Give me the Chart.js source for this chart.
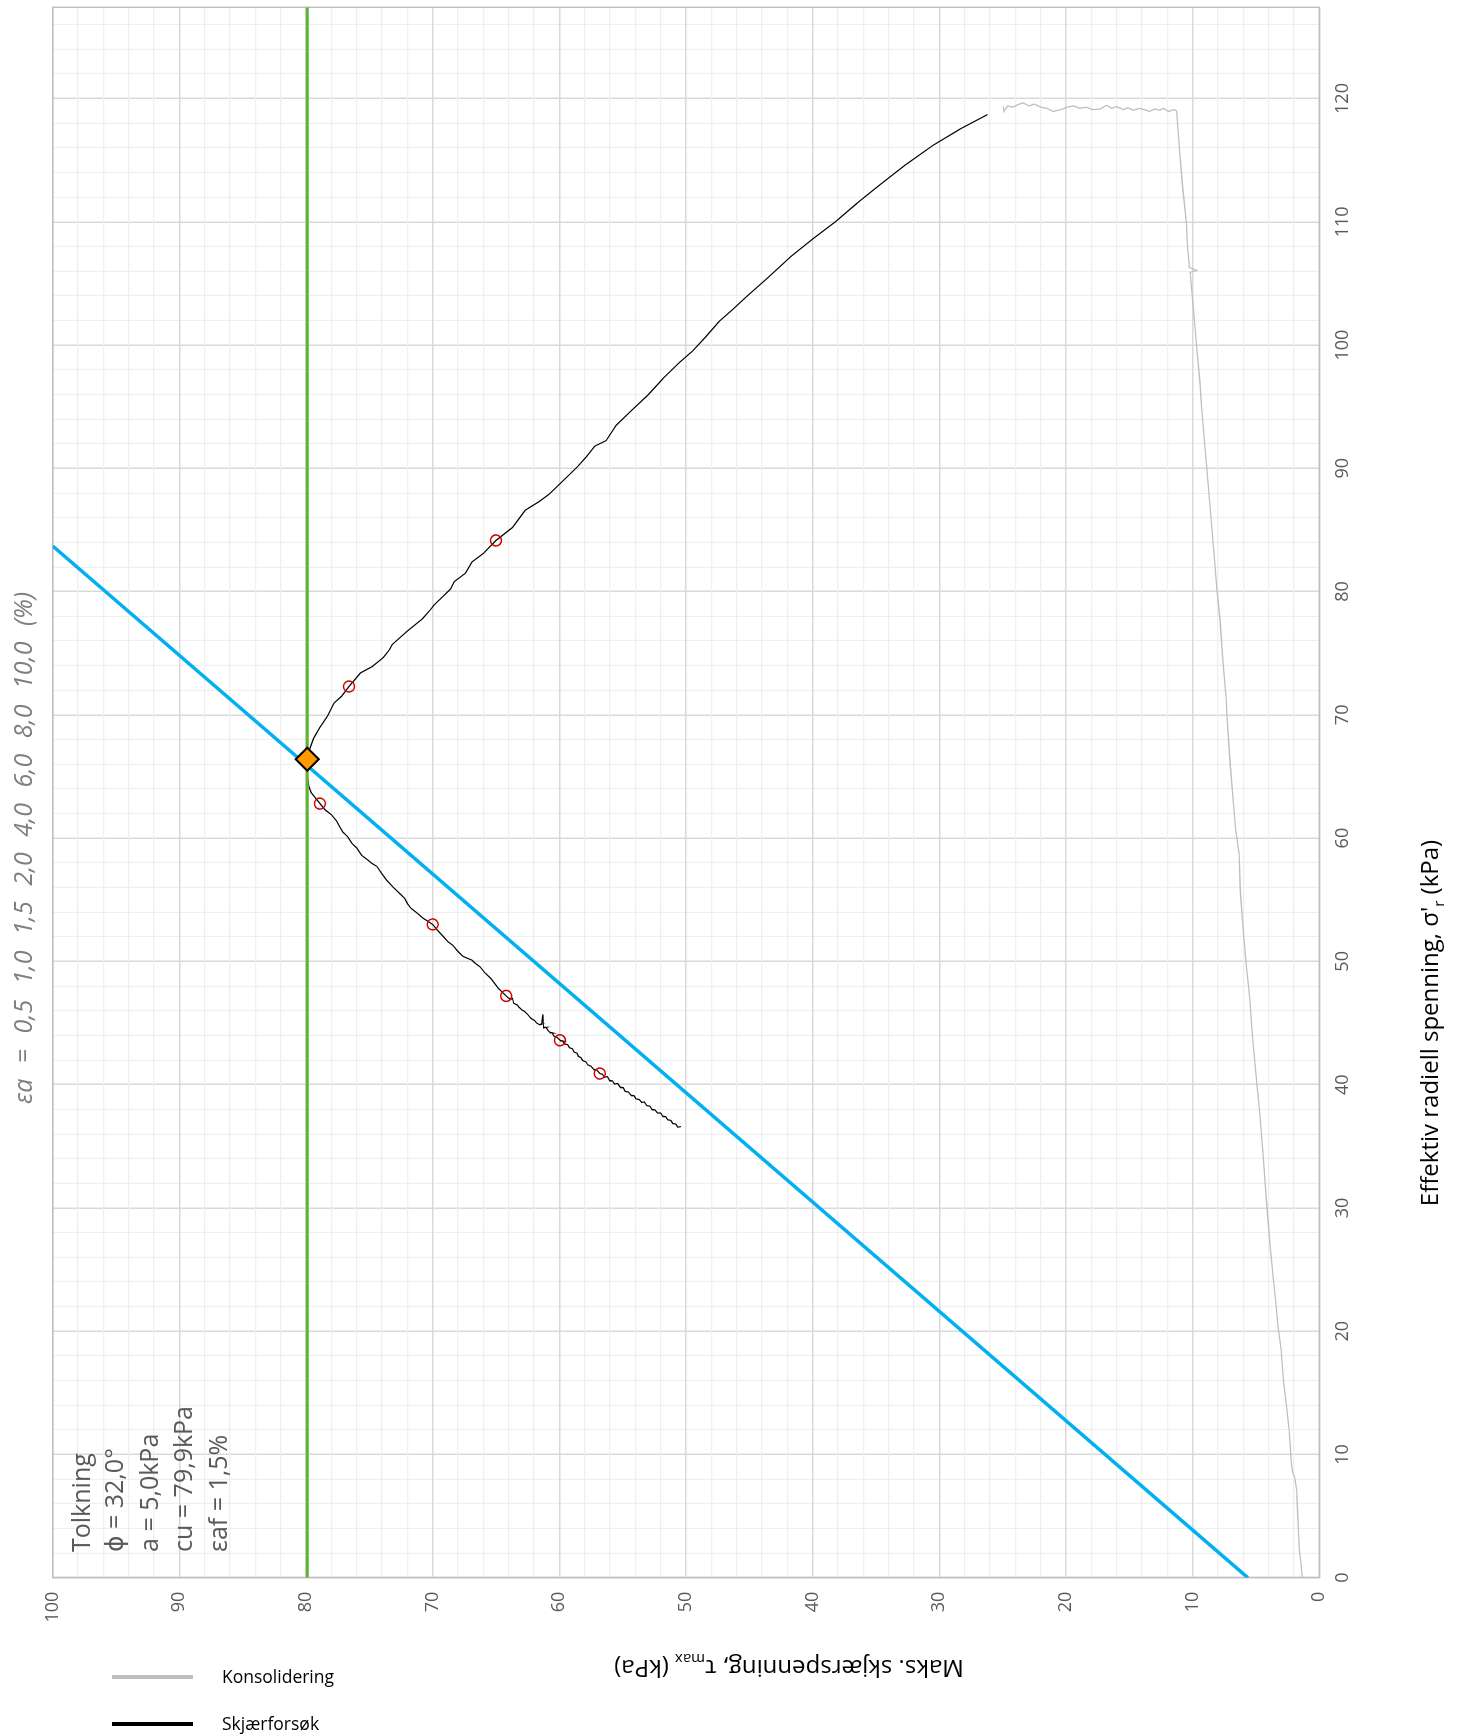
<!DOCTYPE html>
<html lang="no">
<head>
<meta charset="utf-8">
<title>Spenningssti – treaksialforsøk</title>
<script src="https://cdn.jsdelivr.net/npm/chart.js@4.4.1/dist/chart.umd.min.js"></script>
<style>
  html, body { margin: 0; padding: 0; width: 1461px; height: 1734px; overflow: hidden; background: #fff; }
  /* The plot is laid out landscape and turned a quarter turn counter-clockwise */
  #stage {
    position: absolute; left: 0; top: 0;
    width: 1734px; height: 1461px;
    transform-origin: 0 0;
    transform: translate(0px, 1734px) rotate(-90deg);
  }
  #stage canvas { display: block; }
  #legend { position: absolute; left: 0; top: 0; font-family: "Open Sans", sans-serif; font-size: 17.5px; color: #000; }
  #legend .swatch { position: absolute; left: 112px; width: 81px; height: 3.5px; }
  #legend .label { position: absolute; left: 222px; line-height: 24px; white-space: nowrap; }
</style>
</head>
<body>
<div id="stage"><canvas id="chart" width="1734" height="1461"></canvas></div>
<div id="legend"></div>
<script>
// ---- Consolidation stage: effective radial stress σ'r (kPa) and τmax (kPa)
const consolSigma = [
  0.0, 1.2, 2.25, 3.9, 5.5, 7.1, 8.07, 8.6, 9.07, 10.5, 12.0, 14.0, 16.05, 18.5, 20.3, 22.5,
  24.2, 26.9, 30.0, 32.0, 34.3, 37.8, 40.5, 44.0, 47.1, 49.8, 52.9, 55.8, 58.7, 59.6, 60.7,
  63.1, 66.2, 70.0, 71.4, 73.9, 77.7, 80.4, 83.0, 85.4, 88.5, 92.3, 94.9, 96.9, 99.9, 103.0,
  104.5, 105.9, 106.05, 106.3, 106.6, 107.8, 109.9, 112.95, 116.0, 119.0,
  119.1, 118.95, 119.2, 119.05, 119.15, 118.95, 119.1, 119.2, 119.05, 119.25, 119.1, 119.35,
  119.2, 119.45, 119.15, 119.1, 119.3, 119.2, 119.4, 119.3, 119.1, 118.95, 119.2, 119.3,
  119.55, 119.4, 119.65, 119.5, 119.3, 119.4, 118.95, 119.35
];
const consolTau = [
  1.34, 1.45, 1.58, 1.66, 1.72, 1.79, 1.92, 2.1, 2.18, 2.28, 2.39, 2.6, 2.84, 3.02, 3.25, 3.45,
  3.62, 3.88, 4.13, 4.28, 4.44, 4.71, 4.97, 5.29, 5.5, 5.77, 6.03, 6.24, 6.33, 6.45, 6.6,
  6.8, 7.05, 7.3, 7.35, 7.58, 7.84, 8.1, 8.3, 8.5, 8.76, 9.08, 9.29, 9.42, 9.68, 9.95,
  10.08, 10.2, 9.68, 10.28, 10.28, 10.4, 10.5, 10.8, 11.05, 11.26,
  11.5, 11.9, 12.3, 12.6, 13.0, 13.4, 13.8, 14.2, 14.7, 15.1, 15.5, 16.0,
  16.4, 16.8, 17.3, 17.9, 18.4, 18.9, 19.4, 19.9, 20.4, 21.0, 21.5, 22.0,
  22.5, 22.9, 23.4, 23.8, 24.2, 24.6, 24.9, 24.95
];

// ---- Undrained shear stage
const shearSigma = [
  118.7, 117.5, 116.2, 114.6, 113.0, 111.5, 110.0, 108.6, 107.2, 105.5, 103.9, 102.9, 101.9,
  100.6, 99.5, 98.6, 97.3, 95.95, 94.7, 93.5, 92.25, 91.8, 90.9, 90.1, 88.7, 87.9, 87.3, 86.6,
  85.2, 84.15, 83.1, 82.4, 81.5, 80.8, 80.2, 79.6, 78.9, 78.5, 77.8, 76.8, 75.7, 75.3, 74.65,
  73.9, 73.4, 72.3, 71.5, 70.95, 69.9, 69.0, 68.1, 67.1, 66.4,
  65.4, 64.3, 63.7, 62.8, 62.3, 61.9, 61.4, 60.95, 60.5, 60.1, 59.6, 59.2, 58.6, 58.2, 57.95,
  57.7, 57.1, 56.6, 56.0, 55.5, 55.1, 54.7, 54.3, 53.9, 53.5, 53.0, 52.5, 52.0, 51.6, 51.3,
  50.8, 50.4, 50.1, 49.9, 49.55, 49.1, 48.6, 48.2, 47.8,
  47.2, 47.05, 46.9, 47.0, 46.6, 46.45, 46.3, 46.05, 45.95, 45.7, 45.5, 45.35, 45.2, 45.0,
  44.85, 44.9, 45.7, 44.6, 44.65, 44.4, 44.25, 44.2, 43.95, 43.85, 43.6, 43.55, 43.3, 43.25,
  43.0, 42.9, 42.65, 42.55, 42.3, 42.2, 41.95, 41.85, 41.6, 41.5, 41.25, 41.2, 40.9, 40.85,
  40.6, 40.65, 40.35, 40.3, 40.05, 40.1, 39.8, 39.75, 39.45, 39.4, 39.15, 39.1, 38.85, 38.8,
  38.55, 38.6, 38.3, 38.25, 38.0, 37.95, 37.7, 37.7, 37.45, 37.4, 37.15, 37.1, 36.85, 36.8,
  36.55, 36.6
];
const shearTau = [
  26.2, 28.4, 30.5, 32.7, 34.7, 36.5, 38.2, 40.0, 41.7, 43.5, 45.25, 46.3, 47.4,
  48.5, 49.5, 50.5, 51.8, 53.0, 54.3, 55.5, 56.3, 57.2, 57.9, 58.6, 60.0, 60.8, 61.6, 62.7,
  63.7, 65.0, 66.0, 66.9, 67.4, 68.3, 68.6, 69.2, 69.9, 70.2, 70.8, 72.0, 73.2, 73.4, 73.9,
  74.8, 75.7, 76.6, 77.2, 77.8, 78.3, 78.9, 79.4, 79.75, 79.9,
  79.95, 79.8, 79.6, 78.9, 78.5, 78.0, 77.6, 77.35, 77.1, 76.7, 76.4, 76.0, 75.6, 75.1, 74.8,
  74.4, 74.0, 73.65, 73.1, 72.6, 72.2, 72.0, 71.7, 71.2, 70.75, 70.0, 69.6, 69.15, 68.8, 68.4,
  68.0, 67.6, 66.9, 66.7, 66.25, 65.9, 65.4, 65.1, 64.8,
  64.2, 64.05, 63.85, 63.7, 63.6, 63.3, 63.2, 62.95, 62.75, 62.5, 62.35, 62.2, 61.95, 61.8,
  61.55, 61.4, 61.3, 61.25, 61.05, 60.9, 60.75, 60.55, 60.45, 60.2, 59.95, 59.75, 59.6, 59.35,
  59.2, 58.95, 58.85, 58.6, 58.5, 58.3, 58.15, 57.9, 57.75, 57.5, 57.3, 57.05, 56.8, 56.6,
  56.45, 56.2, 56.05, 55.8, 55.65, 55.4, 55.2, 54.95, 54.8, 54.55, 54.35, 54.1, 53.95, 53.7,
  53.5, 53.3, 53.1, 52.85, 52.7, 52.45, 52.25, 52.0, 51.85, 51.6, 51.45, 51.2, 51.05, 50.8,
  50.65, 50.4
];

// ---- Axial strain markers εa (%) along the shear path
const strainLevels = [0.5, 1.0, 1.5, 2.0, 4.0, 6.0, 8.0, 10.0];
const strainSigma  = [84.15, 72.3, 66.4, 62.8, 53.0, 47.2, 43.6, 40.9];
const strainTau    = [65.0, 76.6, 79.9, 78.9, 70.0, 64.2, 59.95, 56.8];

// ---- Interpretation
const phiDeg = 32.0;      // friction angle (°)
const attraction = 5.0;   // a (kPa)
const cu = 79.9;          // undrained shear strength (kPa)
const eaf = 1.5;          // strain at failure (%)
const peakSigma = 66.4;   // σ'r at the interpreted failure point
const failureSigma = [0, 83.7];
const failureTau   = [5.64, 100];

// ---- Axes
const sigmaMax = 127.4;
const tauMax = 100;

const pts = (xs, ys) => xs.map((x, i) => ({ x, y: ys[i] }));
const fmt = v => v.toFixed(1).replace('.', ',');
const evenTicks = (max) => { const t = []; for (let v = 0; v <= max; v += 2) t.push({ value: v }); return t; };

const FONT = '"Open Sans", "DejaVu Sans", sans-serif';

function drawRich(ctx, parts, x, y, size) {
  const fonts = parts.map(([, sub]) => `${sub ? Math.round(size * 0.64) : size}px ${FONT}`);
  let w = 0;
  parts.forEach(([t], i) => { ctx.font = fonts[i]; w += ctx.measureText(t).width; });
  let cx = x - w / 2;
  parts.forEach(([t, sub], i) => {
    ctx.font = fonts[i];
    ctx.fillText(t, cx, y + (sub ? size * 0.24 : 0));
    cx += ctx.measureText(t).width;
  });
}

// tokens laid out one after another between two x positions
function drawSpread(ctx, tokens, x0, x1, y) {
  const widths = tokens.map(t => ctx.measureText(t).width);
  const total = widths.reduce((s, w) => s + w, 0);
  const gap = (x1 - x0 - total) / (tokens.length - 1);
  let cx = x0;
  tokens.forEach((t, i) => { ctx.fillText(t, cx, y); cx += widths[i] + gap; });
}

const framePlugin = {
  id: 'plotFrame',
  beforeDatasetsDraw(chart) {
    const { ctx, chartArea: a } = chart;
    ctx.save();
    ctx.strokeStyle = '#bfbfbf';
    ctx.lineWidth = 1.5;
    ctx.strokeRect(a.left, a.top, a.right - a.left, a.bottom - a.top);
    ctx.restore();
  }
};

const textPlugin = {
  id: 'chartTexts',
  afterDraw(chart) {
    const { ctx } = chart;
    ctx.save();
    ctx.textAlign = 'left';
    ctx.textBaseline = 'alphabetic';

    // axis titles
    ctx.fillStyle = '#000';
    drawRich(ctx, [["Effektiv radiell spenning, σ'", false], ['r', true], [' (kPa)', false]], 711, 1438, 24);
    ctx.save();
    ctx.translate(74, 789);
    ctx.rotate(-Math.PI / 2);
    drawRich(ctx, [['Maks. skjærspenning, τ', false], ['max', true], [' (kPa)', false]], 0, 0, 24);
    ctx.restore();

    // interpretation block
    ctx.fillStyle = '#595959';
    ctx.font = `25px ${FONT}`;
    const lines = [
      'Tolkning',
      `ϕ = ${fmt(phiDeg)}°`,
      `a = ${fmt(attraction)}kPa`,
      `cu = ${fmt(cu)}kPa`,
      `εaf = ${fmt(eaf)}%`
    ];
    const baselines = [90, 123, 158, 192, 227];
    lines.forEach((s, i) => ctx.fillText(s, 182, baselines[i]));

    // strain marker key
    ctx.fillStyle = '#7f7f7f';
    ctx.font = `italic 25px ${FONT}`;
    const tokens = ['εa', '='].concat(strainLevels.map(fmt), ['(%)']);
    drawSpread(ctx, tokens, 630, 1142, 32);
    ctx.restore();
  }
};

const tickFont = { family: FONT, size: 18 };

const chart = new Chart(document.getElementById('chart'), {
  type: 'scatter',
  data: {
    datasets: [
      { label: 'Tolkning', data: [{ x: peakSigma, y: cu }], pointStyle: 'rectRot', pointRadius: 11.5,
        backgroundColor: '#ff9900', borderColor: '#000', borderWidth: 2, order: 0 },
      { label: 'εa', data: pts(strainSigma, strainTau), pointStyle: 'circle', pointRadius: 5.5,
        backgroundColor: 'rgba(0,0,0,0)', borderColor: '#d40000', borderWidth: 1.5, order: 1 },
      { label: 'cu', data: [{ x: 0, y: cu }, { x: sigmaMax, y: cu }], showLine: true,
        borderColor: '#5db532', borderWidth: 3, pointRadius: 0, order: 2 },
      { label: 'Bruddlinje', data: pts(failureSigma, failureTau), showLine: true,
        borderColor: '#00b0f0', borderWidth: 3.5, pointRadius: 0, order: 3 },
      { label: 'Skjærforsøk', data: pts(shearSigma, shearTau), showLine: true,
        borderColor: '#000000', borderWidth: 1.2, pointRadius: 0, order: 4 },
      { label: 'Konsolidering', data: pts(consolSigma, consolTau), showLine: true,
        borderColor: '#bfbfbf', borderWidth: 1.3, pointRadius: 0, order: 5 }
    ]
  },
  options: {
    responsive: false,
    devicePixelRatio: 1,
    animation: false,
    events: [],
    layout: { autoPadding: false, padding: { left: 0, right: 7.3, top: 52.7, bottom: 0 } },
    plugins: { legend: { display: false }, tooltip: { enabled: false } },
    scales: {
      x: {
        type: 'linear', position: 'bottom', min: 0, max: sigmaMax,
        afterBuildTicks: s => { s.ticks = evenTicks(126); },
        afterFit: s => { s.height = 141.7; s.paddingLeft = 0; s.paddingRight = 0; },
        ticks: { autoSkip: false, maxRotation: 0, minRotation: 0, padding: 13, color: '#595959', font: tickFont,
                 callback: v => (v % 10 === 0 ? String(v) : '') },
        grid: { drawTicks: false,
                color: c => (c.tick && c.tick.value % 10 === 0 ? '#d9d9d9' : '#efefef'),
                lineWidth: c => (c.tick && c.tick.value % 10 === 0 ? 1.5 : 1.2) },
        border: { display: false },
        title: { display: false }
      },
      y: {
        type: 'linear', position: 'left', min: 0, max: tauMax,
        afterBuildTicks: s => { s.ticks = evenTicks(100); },
        afterFit: s => { s.width = 156.3; s.paddingTop = 0; s.paddingBottom = 0; },
        ticks: { autoSkip: false, padding: 14, color: '#595959', font: tickFont,
                 callback: v => (v % 10 === 0 ? String(v) : '') },
        grid: { drawTicks: false,
                color: c => (c.tick && c.tick.value % 10 === 0 ? '#d9d9d9' : '#efefef'),
                lineWidth: c => (c.tick && c.tick.value % 10 === 0 ? 1.5 : 1.2) },
        border: { display: false },
        title: { display: false }
      }
    }
  },
  plugins: [framePlugin, textPlugin]
});

// legend for the two measured series, drawn upright below the turned plot
const legend = document.getElementById('legend');
[['Konsolidering', 1677], ['Skjærforsøk', 1724]].forEach(([name, y]) => {
  const ds = chart.data.datasets.find(d => d.label === name);
  const sw = document.createElement('div');
  sw.className = 'swatch';
  sw.style.top = (y - 1.75) + 'px';
  sw.style.background = ds.borderColor;
  const lb = document.createElement('div');
  lb.className = 'label';
  lb.style.top = (y - 13) + 'px';
  lb.textContent = ds.label;
  legend.appendChild(sw);
  legend.appendChild(lb);
});
</script>
</body>
</html>
